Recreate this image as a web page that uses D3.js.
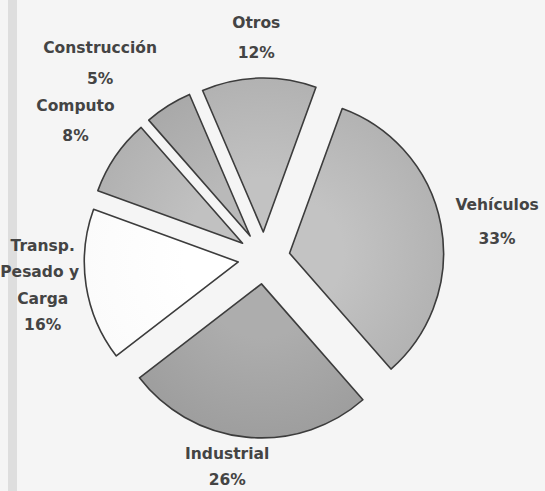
<!DOCTYPE html>
<html>
<head>
<meta charset="utf-8">
<script src="https://cdn.jsdelivr.net/npm/d3@7"></script>
<style>
  body { margin: 0; background: #f5f5f5; }
  svg { display: block; }
  .lbl { font-family: "DejaVu Sans", sans-serif; font-size: 15.5px; font-weight: bold; fill: #444; }
</style>
</head>
<body>
<svg width="545" height="491"></svg>
<script>
// sector shares (%), clockwise from just right of 12 o'clock
var categories = ["Vehículos", "Industrial", "Transp. Pesado y Carga", "Computo", "Construcción", "Otros"];
var values = [33, 26, 16, 8, 5, 12];
var labelLines = [["Vehículos"], ["Industrial"], ["Transp.", "Pesado y", "Carga"], ["Computo"], ["Construcción"], ["Otros"]];

var svg = d3.select("svg"),
    width = +svg.attr("width"),
    height = +svg.attr("height"),
    cx = 264, cy = 258,
    radius = 154,
    explode = 26;

var fills = ["#c0c0c0", "#aaaaaa", "#fbfbfb", "#bebebe", "#b6b6b6", "#bfbfbf"];

// label placement: [angle deg, distance] from the pie centre, set by hand like the original
var labelPolar = [[81, 236], [190, 212], [263, 223], [306, 233], [320, 255], [358, 221]];
var lineGap = [34, 26, 26.5, 30, 31, 30];

// scan edge on the left
svg.append("rect").attr("x", 8).attr("y", 0).attr("width", 9).attr("height", height).attr("fill", "#dedede");

var defs = svg.append("defs");
fills.forEach(function(c, i) {
  var g = defs.append("radialGradient").attr("id", "g" + i)
      .attr("gradientUnits", "userSpaceOnUse").attr("cx", 0).attr("cy", 0).attr("r", radius);
  g.append("stop").attr("offset", "0.35").attr("stop-color", d3.color(c).brighter(0.05));
  g.append("stop").attr("offset", "1").attr("stop-color", i == 2 ? c : d3.color(c).darker(0.2));
});

var pie = d3.pie().sort(null).startAngle(20 * Math.PI / 180).endAngle(380 * Math.PI / 180);
var arc = d3.arc().innerRadius(0).outerRadius(radius);

var arcs = pie(values);

var g = svg.append("g").attr("transform", "translate(" + cx + "," + cy + ")");

g.selectAll("path")
  .data(arcs)
  .enter().append("path")
    .attr("transform", function(d) {
      var p = d3.pointRadial((d.startAngle + d.endAngle) / 2, explode);
      return "translate(" + p[0] + "," + p[1] + ")";
    })
    .attr("d", arc)
    .attr("fill", function(d, i) { return "url(#g" + i + ")"; })
    .attr("stroke", "#3c3c3c")
    .attr("stroke-width", 1.6)
    .attr("stroke-linejoin", "round");

var lab = g.selectAll("text")
  .data(arcs)
  .enter().append("text")
    .attr("class", "lbl")
    .attr("text-anchor", "middle")
    .attr("transform", function(d, i) {
      var p = d3.pointRadial(labelPolar[i][0] * Math.PI / 180, labelPolar[i][1]);
      return "translate(" + p[0] + "," + p[1] + ")";
    });

lab.each(function(d, i) {
  var lines = labelLines[i].concat([d.data + "%"]);
  var t = d3.select(this);
  var y0 = -(lines.length - 1) * lineGap[i] / 2;
  lines.forEach(function(s, k) {
    t.append("tspan")
      .attr("x", (i == 2 && k == 1) ? -3 : 0)
      .attr("y", y0 + k * lineGap[i])
      .attr("dy", "0.35em")
      .text(s);
  });
});
</script>
</body>
</html>
